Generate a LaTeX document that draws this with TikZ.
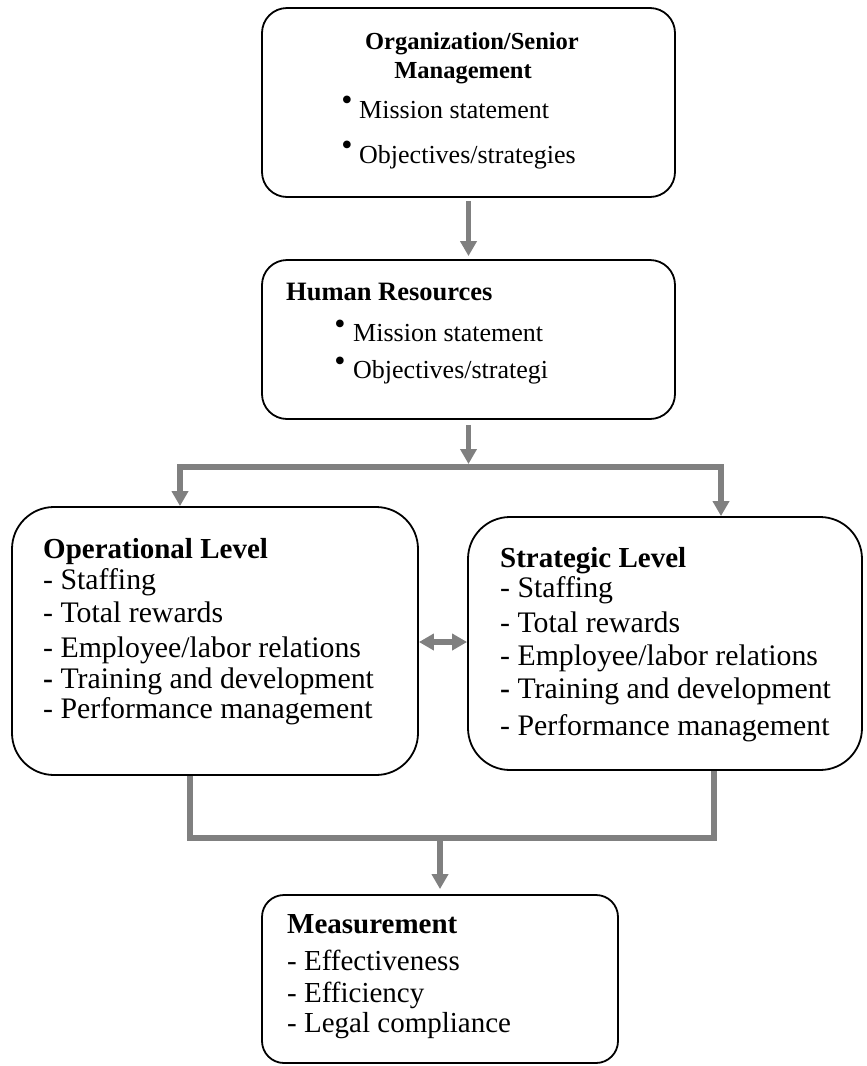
\documentclass[tikz,border=0pt]{standalone}
\usepackage{fontspec}
\setmainfont{Liberation Serif}
\usetikzlibrary{arrows.meta}
\definecolor{arrgray}{RGB}{128,128,128}
\begin{document}
\begin{tikzpicture}[x=1pt,y=-1pt,
  box/.style={draw=black, line width=1.8pt, inner sep=0pt, fill=white},
  tx/.style={inner sep=0pt, anchor=base west, font=\fontsize{26}{30}\selectfont},
  ttl/.style={inner sep=0pt, anchor=base, font=\fontsize{24.5}{28}\selectfont\bfseries},
  hd/.style={inner sep=0pt, anchor=base west, font=\fontsize{29}{32}\selectfont\bfseries},
  li/.style={inner sep=0pt, anchor=base west, font=\fontsize{29.8}{32}\selectfont},
  ml/.style={inner sep=0pt, anchor=base west, font=\fontsize{29}{32}\selectfont},
  bul/.style={inner sep=0pt, anchor=center, font=\fontsize{32}{34}\selectfont},
  conn/.style={draw=arrgray, line width=5.5pt, line join=miter},
  arr/.style={conn, -{Triangle[width=16pt,length=15pt]}},
  darr/.style={conn, {Triangle[width=16pt,length=15pt]}-{Triangle[width=16pt,length=15pt]}},
]
\useasboundingbox (0,0) rectangle (867,1066);

% boxes
\node[box, rounded corners=25pt, minimum width=413pt, minimum height=189pt] (top) at (468.5,102.5) {};
\node[box, rounded corners=25pt, minimum width=413pt, minimum height=159pt] (hr) at (468.5,339.5) {};
\node[box, rounded corners=42pt, minimum width=406pt, minimum height=268pt] (op) at (215,641) {};
\node[box, rounded corners=42pt, minimum width=394pt, minimum height=253pt] (st) at (665,643.5) {};
\node[box, rounded corners=22pt, minimum width=356pt, minimum height=168pt] (ms) at (440,979) {};

% top box text
\node[ttl] (t1) at (472,49) {Organization/Senior};
\node[ttl] (t2) at (463,78) {Management};
\node[bul] (tb1) at (347,103) {•};
\node[tx] (tm) at (359,118) {Mission statement};
\node[bul] (tb2) at (347,148) {•};
\node[tx] (to) at (359,163) {Objectives/strategies};

% HR box text
\node[hd, font=\fontsize{26.5}{30}\selectfont\bfseries] (h1) at (286,300) {Human Resources};
\node[bul] (hb1) at (340,327) {•};
\node[tx] (hm) at (353,341) {Mission statement};
\node[bul] (hb2) at (340,364) {•};
\node[tx] (ho) at (353,378) {Objectives/strategi};

% operational
\node[hd] (o0) at (43,558) {Operational Level};
\node[li] (o1) at (43,589) {- Staffing};
\node[li] (o2) at (43,622) {- Total rewards};
\node[li] (o3) at (43,657) {- Employee/labor relations};
\node[li] (o4) at (43,688) {\textbf{-} Training and development};
\node[li] (o5) at (43,718) {- Performance management};

% strategic
\node[hd] (s0) at (500,567) {Strategic Level};
\node[li] (s1) at (500,597) {- Staffing};
\node[li] (s2) at (500,632) {- Total rewards};
\node[li] (s3) at (500,665) {- Employee/labor relations};
\node[li] (s4) at (500,698) {\textbf{-} Training and development};
\node[li] (s5) at (500,735) {- Performance management};

% measurement
\node[hd] (m0) at (287,933) {Measurement};
\node[ml] (m1) at (287,970) {- Effectiveness};
\node[ml] (m2) at (287,1002) {- Efficiency};
\node[ml] (m3) at (287,1032) {- Legal compliance};

% connectors
\coordinate (j1) at (468.5,467);
\coordinate (bl) at (180,467);
\coordinate (br) at (721,467);
\coordinate (dm) at (443,642);
\coordinate (lb) at (190,838);
\coordinate (rb) at (714,838);
\coordinate (j2) at (440,838);

\draw[arr, shorten <=3pt, shorten >=3pt] (top.south) -- (hr.north);
\draw[arr, shorten <=5pt] (hr.south) -- ([yshift=3pt]j1);
\draw[darr] (op.north -| bl) -- (bl) -- (br) -- (st.north -| br);
\draw[darr] (op.east |- dm) -- (st.west |- dm);
\draw[conn] (op.south -| lb) -- (lb) -- (rb) -- (st.south -| rb);
\draw[arr, shorten >=5pt] (j2) -- (ms.north);
\end{tikzpicture}
\end{document}
